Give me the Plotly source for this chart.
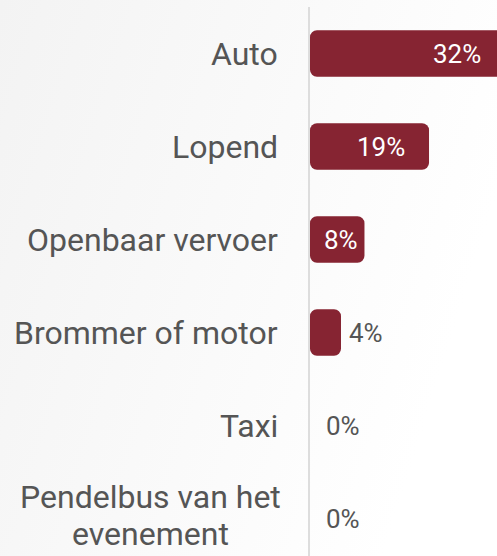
import plotly.graph_objects as go
import urllib.parse

categories = ["Auto", "Lopend", "Openbaar vervoer", "Brommer of motor", "Taxi",
              "Pendelbus van het<br>evenement"]
values = [32, 19, 8, 4, 0, 0]
value_labels = ["32%", "19%", "8%", "4%", "0%", "0%"]

BAR_COLOR = "#862432"
TEXT_COLOR = "#555555"
FONT = "Roboto"

W, H = 497, 556
ML, MT = 310, 7
X0 = -1.28   # axis start (bars are drawn from the axis line)
X1 = 30.58
Y_TOP, Y_BOT = -0.5, 5.403
LABEL_GAP = 30
LINE_H = 37          # line spacing for wrapped category labels
WRAP_WIDTH = 257     # width of the widest wrapped label line

idx = list(range(len(categories)))
lengths = [v - X0 if v > 0 else 0 for v in values]


def to_paper(v):
    return (v - X0) / (X1 - X0)


fig = go.Figure()
fig.add_trace(go.Bar(
    y=idx, x=lengths, base=X0, orientation="h",
    marker=dict(color=BAR_COLOR, line=dict(width=0)),
    width=0.5, hoverinfo="skip", showlegend=False,
))

annotations = []
for i, (c, v, lab) in enumerate(zip(categories, values, value_labels)):
    lines = c.split("<br>")
    if len(lines) == 1:
        annotations.append(dict(
            x=0, xref="paper", y=i, yref="y", text=c, showarrow=False,
            xanchor="right", yanchor="middle", xshift=-LABEL_GAP,
            font=dict(family=FONT, size=32, color=TEXT_COLOR),
        ))
    else:
        n = len(lines)
        for k, ln in enumerate(lines):
            annotations.append(dict(
                x=0, xref="paper", y=i, yref="y", text=ln, showarrow=False,
                xanchor="center", yanchor="middle",
                xshift=-LABEL_GAP - WRAP_WIDTH / 2 - 1,
                yshift=((n - 1) / 2 - k) * LINE_H + 3,
                font=dict(family=FONT, size=32, color=TEXT_COLOR),
            ))
    if v >= 6:
        shift = -22 if v >= 10 else -4
        annotations.append(dict(
            x=to_paper(v), y=i, xref="paper", yref="y", text=lab, showarrow=False,
            xanchor="right", yanchor="middle", xshift=shift,
            font=dict(family=FONT, size=26, color="white"),
        ))
    else:
        annotations.append(dict(
            x=to_paper(v), y=i, xref="paper", yref="y", text=lab, showarrow=False,
            xanchor="left", yanchor="middle", xshift=6,
            font=dict(family=FONT, size=26, color=TEXT_COLOR),
        ))

pw = W - ML
ph = H - MT
svg = ("<svg xmlns='http://www.w3.org/2000/svg' width='497' height='556' preserveAspectRatio='none'>"
       "<defs><linearGradient id='g' x1='0' y1='0' x2='1' y2='0.35'>"
       "<stop offset='0' stop-color='#f3f3f3'/><stop offset='1' stop-color='#ffffff'/>"
       "</linearGradient></defs><rect width='497' height='556' fill='url(#g)'/></svg>")
src = "data:image/svg+xml;charset=utf-8," + urllib.parse.quote(svg)

fig.update_layout(
    width=W, height=H,
    margin=dict(l=ML, r=0, t=MT, b=0, pad=0),
    paper_bgcolor="white", plot_bgcolor="rgba(0,0,0,0)",
    barcornerradius=7,
    font=dict(family=FONT, color=TEXT_COLOR),
    xaxis=dict(range=[X0, X1], showgrid=False, zeroline=False, showticklabels=False,
               showline=False, fixedrange=True),
    yaxis=dict(range=[Y_BOT, Y_TOP], showgrid=False, zeroline=False, showticklabels=False,
               showline=True, linecolor="#dddddd", linewidth=2, fixedrange=True),
    annotations=annotations,
    images=[dict(source=src, xref="paper", yref="paper",
                 x=-ML / pw, y=1 + MT / ph, sizex=W / pw, sizey=H / ph,
                 xanchor="left", yanchor="top", sizing="stretch", layer="below")],
)

fig.write_html("out.html", config={"displayModeBar": False},
               post_script="document.body.style.margin='0';document.body.style.overflow='hidden';")
